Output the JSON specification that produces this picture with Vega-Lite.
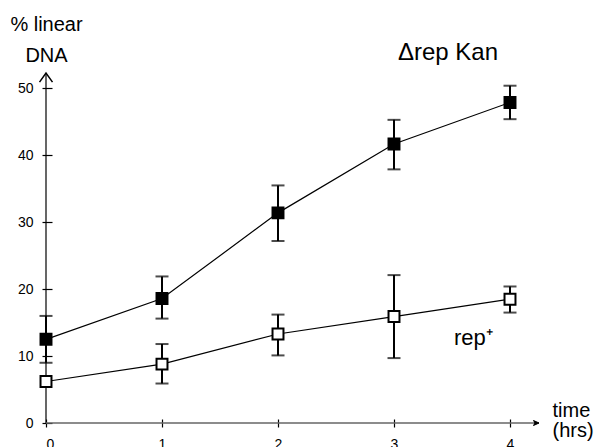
{
  "$schema": "https://vega.github.io/schema/vega-lite/v6.json",
  "width": 493,
  "height": 350,
  "autosize": {"type": "none"},
  "padding": {"left": 46, "top": 73, "right": 55, "bottom": 24},
  "background": "white",
  "config": {
    "view": {"stroke": null},
    "font": "Liberation Sans",
    "axis": {"grid": false, "labelFont": "Liberation Sans", "titleFont": "Liberation Sans", "labelColor": "black", "titleColor": "black", "tickColor": "black", "labelFontSize": 14, "titleFontSize": 20, "titleFontWeight": "normal"}
  },
  "datasets": {
    "points": [
      {"time": 0, "series": "Δrep Kan", "pct": 12.5, "lo": 9.0, "hi": 16.0},
      {"time": 1, "series": "Δrep Kan", "pct": 18.6, "lo": 15.6, "hi": 21.9},
      {"time": 2, "series": "Δrep Kan", "pct": 31.4, "lo": 27.2, "hi": 35.5},
      {"time": 3, "series": "Δrep Kan", "pct": 41.7, "lo": 37.9, "hi": 45.3},
      {"time": 4, "series": "Δrep Kan", "pct": 47.9, "lo": 45.4, "hi": 50.4},
      {"time": 0, "series": "rep+", "pct": 6.2, "lo": null, "hi": null},
      {"time": 1, "series": "rep+", "pct": 8.8, "lo": 5.9, "hi": 11.8},
      {"time": 2, "series": "rep+", "pct": 13.3, "lo": 10.1, "hi": 16.2},
      {"time": 3, "series": "rep+", "pct": 15.9, "lo": 9.7, "hi": 22.1},
      {"time": 4, "series": "rep+", "pct": 18.5, "lo": 16.5, "hi": 20.4}
    ],
    "one": [{}]
  },
  "data": {"name": "points"},
  "layer": [
    {
      "data": {"name": "one"},
      "mark": {"type": "rule", "color": "black", "strokeWidth": 1.2},
      "encoding": {"x": {"datum": 0, "type": "quantitative", "scale": {"domain": [0, 4.25], "nice": false}}}
    },
    {
      "data": {"name": "one"},
      "mark": {"type": "rule", "color": "#666666", "strokeWidth": 1.5},
      "encoding": {"y": {"datum": 0, "type": "quantitative"}}
    },
    {
      "transform": [{"filter": "datum.lo != null"}],
      "mark": {"type": "rule", "color": "black", "strokeWidth": 2},
      "encoding": {
        "x": {"field": "time", "type": "quantitative"},
        "y": {"field": "lo", "type": "quantitative"},
        "y2": {"field": "hi"}
      }
    },
    {
      "transform": [{"filter": "datum.lo != null"}],
      "mark": {"type": "tick", "orient": "horizontal", "color": "black", "size": 13, "thickness": 2},
      "encoding": {
        "x": {"field": "time", "type": "quantitative"},
        "y": {"field": "lo", "type": "quantitative"}
      }
    },
    {
      "transform": [{"filter": "datum.lo != null"}],
      "mark": {"type": "tick", "orient": "horizontal", "color": "black", "size": 13, "thickness": 2},
      "encoding": {
        "x": {"field": "time", "type": "quantitative"},
        "y": {"field": "hi", "type": "quantitative"}
      }
    },
    {
      "mark": {"type": "line", "color": "black", "strokeWidth": 1.2},
      "encoding": {
        "x": {
          "field": "time", "type": "quantitative",
          "scale": {"domain": [0, 4.25], "nice": false},
          "axis": {
            "values": [0, 1, 2, 3, 4], "format": "d", "domain": false,
            "offset": -4, "tickSize": 8, "tickWidth": 1.2, "labelPadding": 10,
            "title": ["time", "(hrs)"], "titleAngle": 0, "titleAlign": "left",
            "titleBaseline": "alphabetic", "titleX": 506, "titleY": -3, "titleLineHeight": 20
          }
        },
        "y": {
          "field": "pct", "type": "quantitative",
          "scale": {"domain": [0, 52.3], "nice": false},
          "axis": {
            "values": [0, 10, 20, 30, 40, 50], "domain": false,
            "offset": -6, "tickSize": 10, "tickWidth": 1.2, "labelPadding": 9,
            "title": ["% linear", "DNA"], "titleAngle": 0, "titleAlign": "center",
            "titleBaseline": "alphabetic", "titleX": -6, "titleY": -43, "titleLineHeight": 31
          }
        },
        "detail": {"field": "series"}
      }
    },
    {
      "mark": {"type": "point", "shape": "square", "filled": true, "size": 120, "stroke": "black", "strokeWidth": 2, "opacity": 1},
      "encoding": {
        "x": {"field": "time", "type": "quantitative"},
        "y": {"field": "pct", "type": "quantitative"},
        "fill": {"field": "series", "type": "nominal", "scale": {"domain": ["Δrep Kan", "rep+"], "range": ["black", "white"]}, "legend": null}
      }
    },
    {
      "data": {"name": "one"},
      "mark": {"type": "point", "shape": "M-1,1.4L0,0L1,1.4", "filled": false, "stroke": "black", "strokeWidth": 1.5, "size": 169, "opacity": 1},
      "encoding": {"x": {"datum": 0, "type": "quantitative"}, "y": {"datum": 52.3, "type": "quantitative"}}
    },
    {
      "data": {"name": "one"},
      "mark": {"type": "point", "shape": "M-2.2,-1L0,0L-2.2,1L-1.6,0Z", "filled": true, "fill": "black", "stroke": "black", "strokeWidth": 1, "size": 25, "opacity": 1},
      "encoding": {"x": {"datum": 4.25, "type": "quantitative"}, "y": {"datum": 0, "type": "quantitative"}}
    },
    {
      "data": {"name": "one"},
      "mark": {"type": "text", "text": "Δrep Kan", "fontSize": 24, "align": "left", "baseline": "alphabetic", "fill": "black", "fontWeight": "normal"},
      "encoding": {"x": {"datum": 3.034, "type": "quantitative"}, "y": {"datum": 54.26, "type": "quantitative"}}
    },
    {
      "data": {"name": "one"},
      "mark": {"type": "text", "text": "rep⁺", "fontSize": 22, "align": "left", "baseline": "alphabetic", "fill": "black", "fontWeight": "normal"},
      "encoding": {"x": {"datum": 3.517, "type": "quantitative"}, "y": {"datum": 11.66, "type": "quantitative"}}
    }
  ]
}
